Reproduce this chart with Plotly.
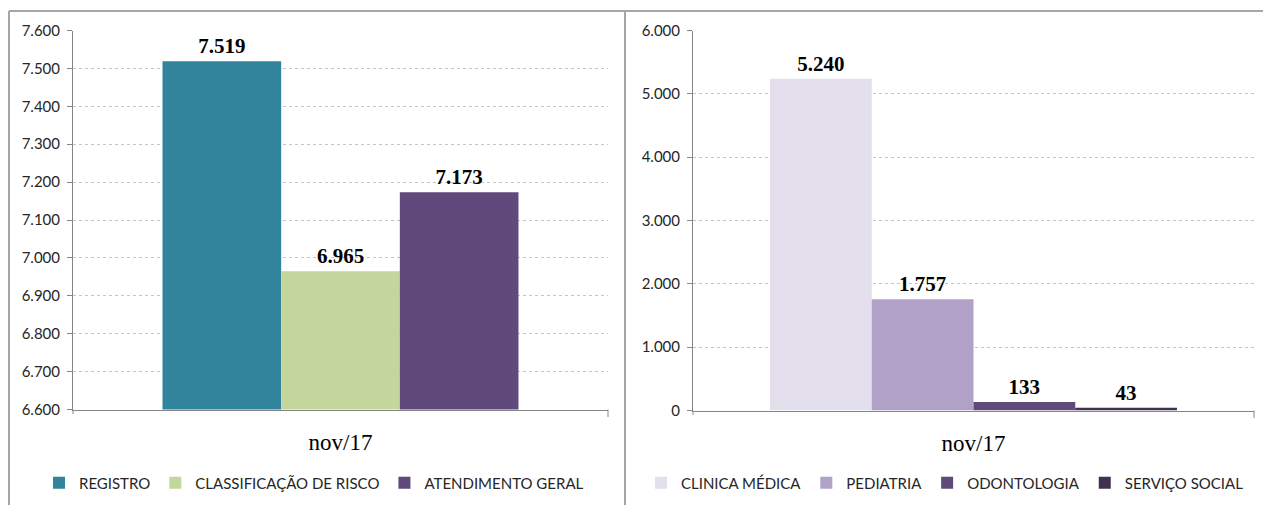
import plotly.graph_objects as go

# ---- data ----
period = ["nov/17"]

left_names = ["REGISTRO", "CLASSIFICAÇÃO DE RISCO", "ATENDIMENTO GERAL"]
left_values = [7519, 6965, 7173]
left_colors = ["#31849B", "#C3D69B", "#604A7B"]

right_names = ["CLINICA MÉDICA", "PEDIATRIA", "ODONTOLOGIA", "SERVIÇO SOCIAL"]
right_values = [5240, 1757, 133, 43]
right_colors = ["#E4DFEC", "#B1A0C7", "#604A7B", "#403151"]

W, H = 1263, 505

fig = go.Figure()

label_font = dict(family="Liberation Serif", size=21, color="#000000", weight="bold")

for name, val, col in zip(left_names, left_values, left_colors):
    fig.add_trace(go.Bar(
        x=period, y=[val], name=name, marker_color=col,
        marker_line=dict(width=12, color="rgba(0,0,0,0)"),
        texttemplate="%{y:,.0f}", textposition="outside", textfont=label_font,
        cliponaxis=False, xaxis="x", yaxis="y", legend="legend",
        offsetgroup=name,
    ))

for name, val, col in zip(right_names, right_values, right_colors):
    fig.add_trace(go.Bar(
        x=period, y=[val], name=name, marker_color=col,
        marker_line=dict(width=12, color="rgba(0,0,0,0)"),
        texttemplate="%{y:,.0f}", textposition="outside", textfont=label_font,
        cliponaxis=False, xaxis="x2", yaxis="y2", legend="legend2",
        offsetgroup=name,
    ))

def px_x(p):
    return p / W

def px_y(p):
    return 1 - p / H

axis_color = "#868686"
tick_font = dict(family="Lato", size=15, color="#262626")
cat_font = dict(family="Liberation Serif", size=23, color="#000000")

common_x = dict(type="category", showline=True, linecolor=axis_color, linewidth=1,
                ticks="", tickfont=cat_font, ticklabelstandoff=12, showgrid=False,
                zeroline=False, fixedrange=True, automargin=False)
common_y = dict(showline=True, linecolor=axis_color, linewidth=1, ticks="outside",
                ticklen=5, tickcolor=axis_color, tickfont=tick_font,
                tickformat=",.0f", showgrid=True, gridcolor="#c4c4c4",
                griddash="dot", gridwidth=1, zeroline=False, ticklabelstandoff=4,
                automargin=False, fixedrange=True)

fig.update_layout(
    width=W, height=H,
    margin=dict(l=0, r=0, t=0, b=0, autoexpand=False),
    paper_bgcolor="white", plot_bgcolor="white",
    separators=",.",
    barmode="group", bargap=0.3, bargroupgap=0,
    xaxis=dict(domain=[px_x(73), px_x(608)], anchor="y",
               range=[-0.526, 0.526], **common_x),
    yaxis=dict(domain=[px_y(409.5), px_y(30.5)], anchor="x",
               range=[6600, 7600], dtick=100, tick0=6600, **common_y),
    xaxis2=dict(domain=[px_x(693), px_x(1254)], anchor="y2",
                range=[-0.4825, 0.4825], **common_x),
    yaxis2=dict(domain=[px_y(410.5), px_y(30.5)], anchor="x2",
                range=[0, 6000], dtick=1000, tick0=0, **common_y),
    legend=dict(orientation="h", x=px_x(314), y=px_y(483), xanchor="center",
                yanchor="middle", font=dict(family="Lato", size=15, color="#262626"),
                itemwidth=30, tracegroupgap=0, bgcolor="rgba(0,0,0,0)"),
    legend2=dict(orientation="h", x=px_x(945), y=px_y(483), xanchor="center",
                 yanchor="middle", font=dict(family="Lato", size=15, color="#262626"),
                 itemwidth=30, tracegroupgap=0, bgcolor="rgba(0,0,0,0)"),
    showlegend=True,
)

frame_color = "#a6a6a6"
shapes = [
    # chart frames
    dict(type="line", xref="paper", yref="paper", x0=px_x(9), x1=1.0,
         y0=px_y(11), y1=px_y(11), line=dict(color=frame_color, width=2)),
    dict(type="line", xref="paper", yref="paper", x0=px_x(9), x1=px_x(9),
         y0=px_y(11), y1=0, line=dict(color=frame_color, width=2)),
    dict(type="line", xref="paper", yref="paper", x0=px_x(625), x1=px_x(625),
         y0=px_y(11), y1=0, line=dict(color=frame_color, width=2)),
    # category boundary ticks at the ends of the x axes
    dict(type="line", xref="x domain", yref="paper", x0=1, x1=1,
         y0=px_y(409.5), y1=px_y(417), line=dict(color=axis_color, width=1)),
    dict(type="line", xref="x domain", yref="paper", x0=0, x1=0,
         y0=px_y(409.5), y1=px_y(414), line=dict(color=axis_color, width=1)),
    dict(type="line", xref="x2 domain", yref="paper", x0=1, x1=1,
         y0=px_y(410.5), y1=px_y(418), line=dict(color=axis_color, width=1)),
    dict(type="line", xref="x2 domain", yref="paper", x0=0, x1=0,
         y0=px_y(410.5), y1=px_y(415), line=dict(color=axis_color, width=1)),
]
fig.update_layout(shapes=shapes)

fig.write_html(
    "out.html",
    config={"displayModeBar": False},
    post_script="document.body.style.margin='0';document.body.style.overflow='hidden';",
)
